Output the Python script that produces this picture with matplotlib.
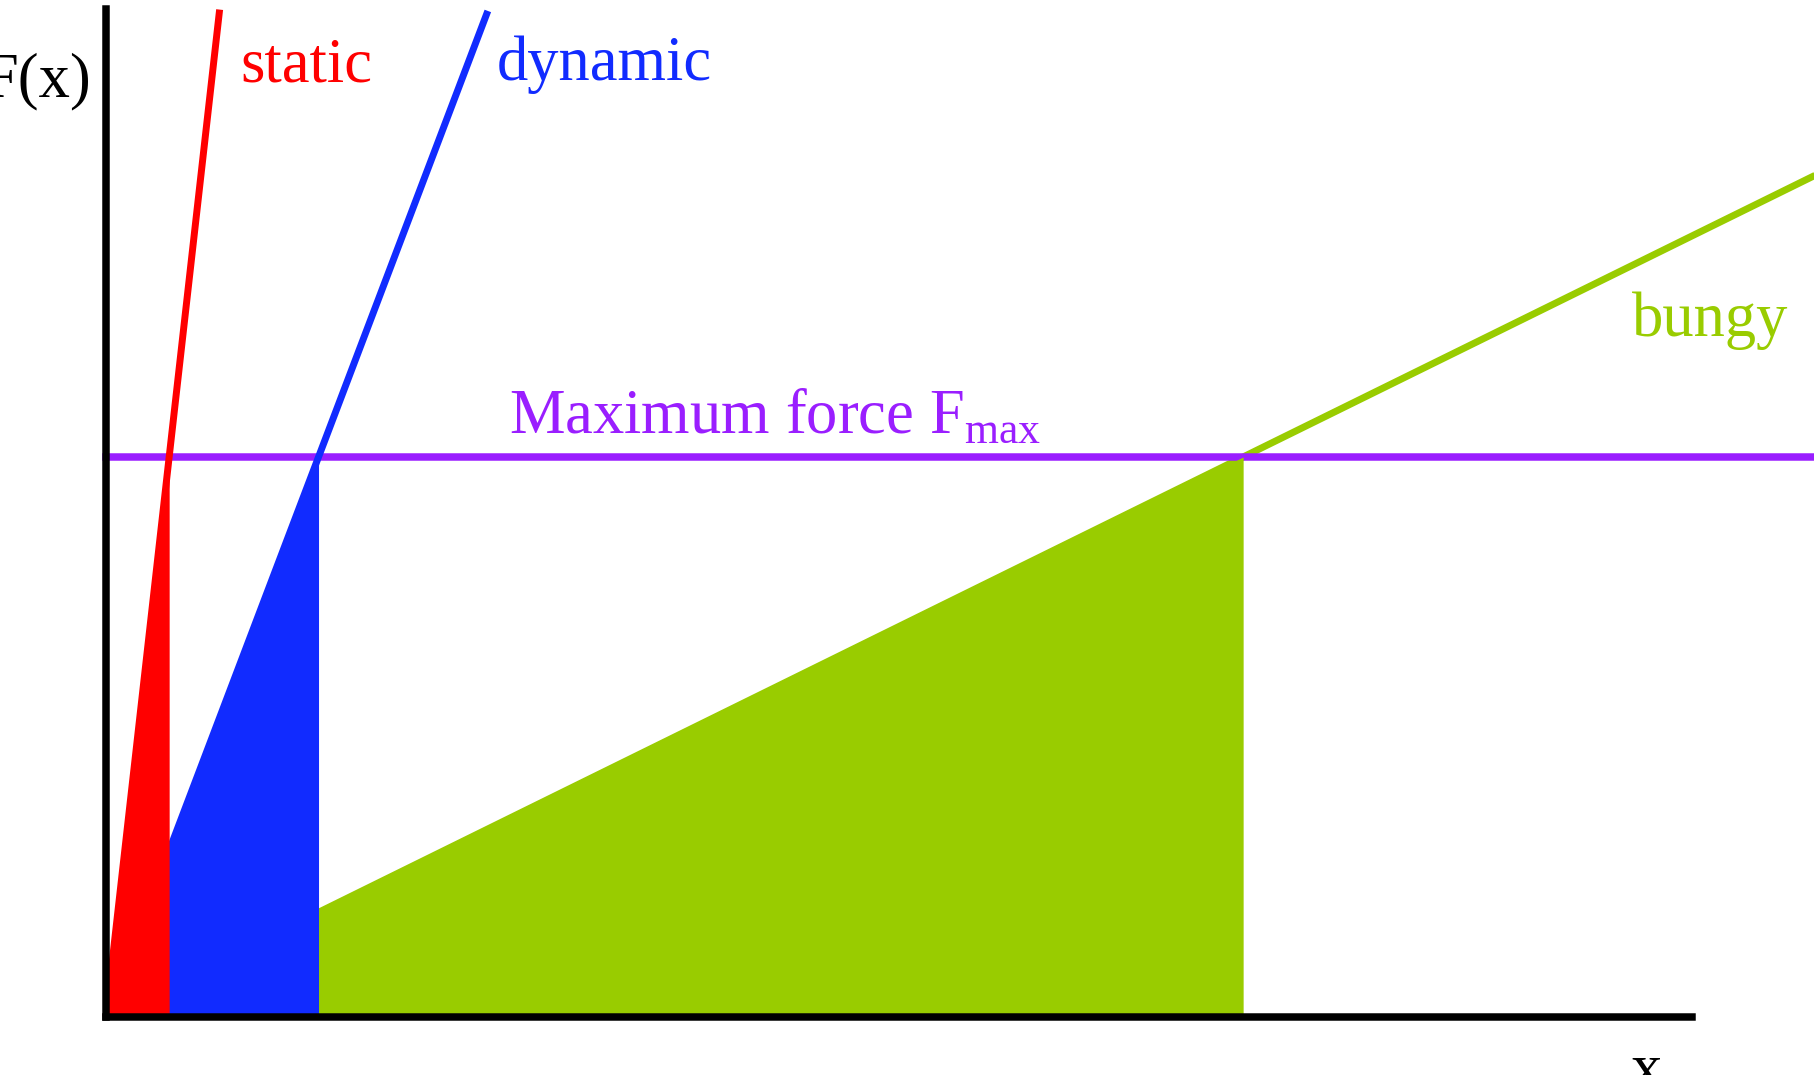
import numpy as np
import matplotlib
matplotlib.use("Agg")
import matplotlib.pyplot as plt

plt.rcParams["font.family"] = ["Liberation Serif", "DejaVu Serif"]
plt.rcParams["mathtext.fontset"] = "custom"
plt.rcParams["mathtext.rm"] = "Liberation Serif"

# stiffness of each rope (force per unit extension) and the force limit
rope_names = ["bungy", "dynamic", "static"]
rope_stiffness = [1.0, 5.35, 18.0]
rope_colors = ["#99cc00", "#112bff", "#ff0000"]
f_max = 1.0
f_top = 1.8      # top of the force axis
x_end = 1.395    # end of the extension axis

fig = plt.figure(figsize=(18.14, 10.75), dpi=100)
ax = fig.add_axes([0, 0, 1, 1])
ax.set_xlim(-0.0932, 1.502)
ax.set_ylim(-0.1036, 1.816)

# rope lines through the origin, up to the top of the plot
x_line = np.linspace(0, x_end + 0.2, 400)
for k, c, z in zip(rope_stiffness, rope_colors, [2, 4, 5]):
    y = k * x_line
    keep = y <= f_top
    ax.plot(x_line[keep], y[keep], color=c, lw=5, zorder=z, solid_capstyle="butt")

ax.axhline(f_max, xmin=(0 - ax.get_xlim()[0]) / np.ptp(ax.get_xlim()), color="#9a1eff",
           lw=5.4, zorder=3)

# energy areas: under each line up to the point where it reaches F_max
for k, c, z in zip(rope_stiffness, rope_colors, [6, 7, 8]):
    xs = np.linspace(0, f_max / k, 2)
    ax.fill_between(xs, 0, k * xs, color=c, lw=0, zorder=z)

# axes drawn as spines through the origin
for side in ["top", "right"]:
    ax.spines[side].set_visible(False)
ax.spines["left"].set_position(("data", 0))
ax.spines["bottom"].set_position(("data", 0))
ax.spines["left"].set_bounds(0, f_top)
ax.spines["bottom"].set_bounds(0, x_end)
for side in ["left", "bottom"]:
    ax.spines[side].set_linewidth(5.4)
    ax.spines[side].set_zorder(9)
ax.set_xticks([])
ax.set_yticks([])

fs = 45
ax.text(0.1179, 1.671, "static", color=rope_colors[2], fontsize=fs, va="baseline")
ax.text(0.344, 1.673, "dynamic", color=rope_colors[1], fontsize=fs, va="baseline")
ax.text(1.342, 1.216, "bungy", color=rope_colors[0], fontsize=fs, va="baseline")
ax.text(0.354, 1.043, r"Maximum force F$_{\mathrm{max}}$", color="#9a1eff",
        fontsize=fs, va="baseline")
ax.text(-0.013, 1.643, "F(x)", color="black", fontsize=fs, va="baseline", ha="right")
ax.text(1.354, -0.125, "x", color="black", fontsize=fs, va="baseline", ha="center")

fig.savefig("out.png", dpi=100)
